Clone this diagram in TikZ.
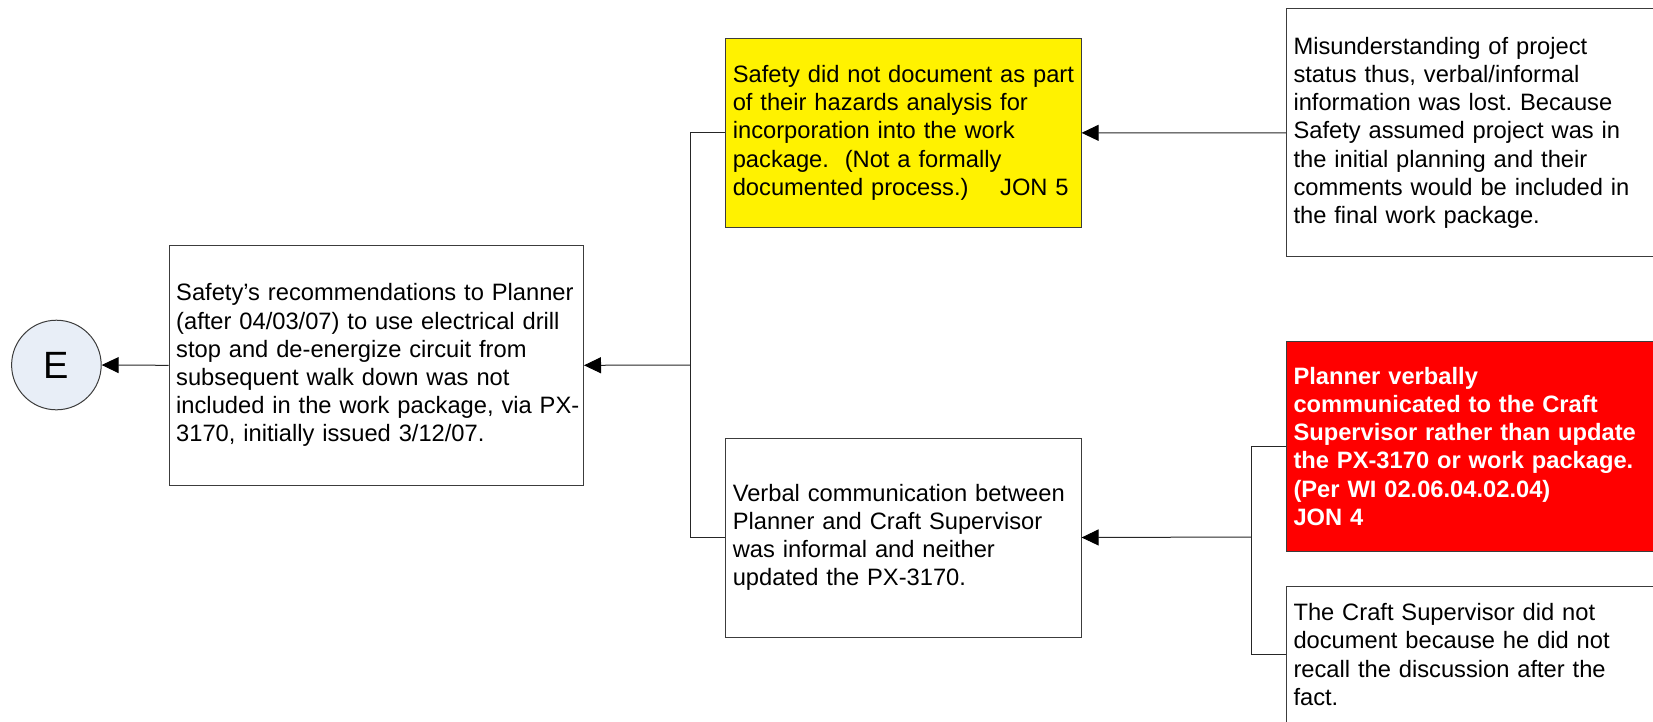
\documentclass[tikz,border=0pt]{standalone}
\usepackage{fontspec}
\setmainfont{Liberation Sans}
\usetikzlibrary{arrows.meta}
\definecolor{circfill}{RGB}{232,238,247}
\definecolor{edge}{RGB}{60,60,60}
\frenchspacing
\begin{document}
\begin{tikzpicture}[x=1pt,y=-1pt,
  box/.style={draw=edge, line width=1pt, rectangle, align=left,
    inner xsep=7pt, inner ysep=0pt, anchor=north west,
    font=\fontsize{23.7}{28.2}\selectfont},
  conn/.style={draw=black!85, line width=1pt},
  arr/.style={conn, -{Triangle[length=17pt, width=16pt, color=black, fill=black]}}
]
\useasboundingbox (0,0) rectangle (1653,721);
\clip (0,0) rectangle (1653,721);

% top event
\node[circle, draw=edge, line width=1pt, fill=circfill, minimum size=89.6pt,
  inner sep=0pt, font=\fontsize{38}{42}\selectfont] (E) at (56.4,365) {E};

% first level
\node[box, text width=400.3pt, minimum height=240.4pt] (main) at (168.7,244.6)
  {Safety’s recommendations to Planner\\
   (after 04/03/07) to use electrical drill\\
   stop and de-energize circuit from\\
   subsequent walk down was not\\
   \mbox{included in the work package, via PX-}\\
   3170, initially issued 3/12/07.};

% second level
\node[box, fill=yellow, text width=341.3pt, minimum height=188.7pt] (haz) at (725.3,38)
  {Safety did not document as part\\
   of their hazards analysis for\\
   incorporation into the work\\
   package.\ \ (Not a formally\\
   documented process.)\ \ \ \ JON 5};

\node[box, text width=341.3pt, minimum height=199pt] (verbal) at (725.3,437.5)
  {Verbal communication between\\
   Planner and Craft Supervisor\\
   was informal and neither\\
   updated the PX-3170.};

% third level
\node[box, text width=406pt, minimum height=247.8pt] (mis) at (1286,8.4)
  {Misunderstanding of project\\
   status thus, verbal/informal\\
   information was lost. Because\\
   Safety assumed project was in\\
   the initial planning and their\\
   comments would be included in\\
   the final work package.};

\node[box, fill=red, text=white, text width=406pt, minimum height=210.8pt] (planner) at (1286,340.5)
  {\bfseries Planner verbally\\
   \bfseries communicated to the Craft\\
   \bfseries Supervisor rather than update\\
   \bfseries the PX-3170 or work package.\\
   \bfseries (Per WI 02.06.04.02.04)\\
   \bfseries JON 4};

\node[box, text width=406pt, minimum height=136pt] (craft) at (1286,586.1)
  {The Craft Supervisor did not\\
   document because he did not\\
   recall the discussion after the\\
   fact.};

% junction points
\coordinate (j1) at (690.5,365);
\coordinate (j2) at (1251.3,537);

% connectors
\draw[arr] (main.west) -- (E.east);
\draw[arr] (j1) -- (main.east);
\draw[conn] (haz.west) -| (j1);
\draw[conn] (verbal.west) -| (j1);
\draw[arr] (mis.west) -- (haz.east);
\draw[arr] (j2) -- (verbal.east);
\draw[conn] (planner.west) -| (j2);
\draw[conn] (craft.west) -| (j2);
\end{tikzpicture}
\end{document}
